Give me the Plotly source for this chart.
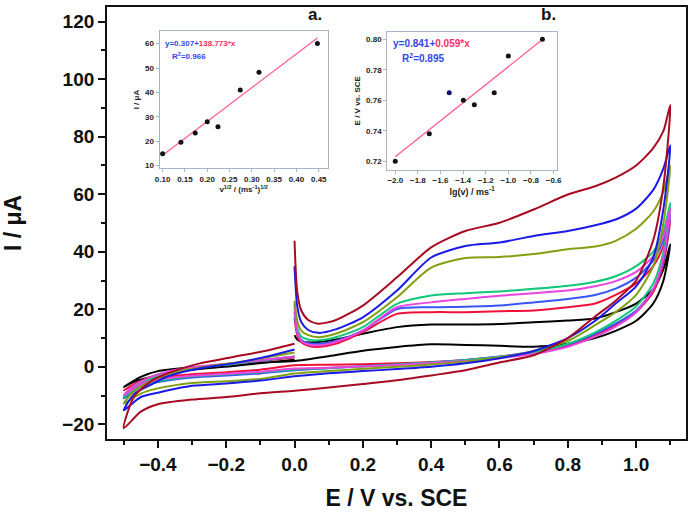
import plotly.graph_objects as go

# ---------------- main CV data ----------------
scan_labels = ["10 mV/s", "20 mV/s", "30 mV/s", "40 mV/s", "50 mV/s", "75 mV/s", "100 mV/s", "200 mV/s"]
curve_colors = ["#000000", "#f0103a", "#3a55f5", "#10c878", "#e845e0", "#80a010", "#1a1ae6", "#a80a22"]

E_anodic = [0.0, 0.008, 0.02, 0.04, 0.07, 0.12, 0.2, 0.3, 0.4, 0.5, 0.6, 0.7, 0.8, 0.88, 0.94, 1.0, 1.05, 1.08, 1.1]
E_cathodic = [1.08, 1.05, 1.0, 0.94, 0.88, 0.8, 0.7, 0.6, 0.5, 0.4, 0.3, 0.2, 0.1, 0.0, -0.1, -0.2, -0.3, -0.4, -0.45, -0.5]
E_return = [-0.47, -0.42, -0.37, -0.28, -0.18, -0.08, 0.0]

I_anodic = [
    [11, 9.5, 8.8, 8.5, 8.6, 9.5, 11.5, 13.8, 14.7, 14.7, 14.9, 15.5, 16.1, 16.8, 19, 22, 27, 34, 42.6],
    [17, 11, 8.5, 7.3, 6.9, 8.0, 12.1, 18.4, 19.0, 19.0, 19.3, 19.6, 20.7, 22, 25, 29, 35, 42, 51],
    [19, 12, 9.3, 8.3, 8.0, 9.0, 12.6, 20.1, 20.7, 20.9, 21.3, 22.4, 23.6, 25, 27.2, 31, 37, 44, 53],
    [22, 13.5, 10.5, 9.5, 9.2, 10.3, 13.8, 21.9, 24.8, 25.6, 26.2, 27.1, 28.2, 29.6, 31.5, 35, 40, 47, 57],
    [21, 12, 9, 7.8, 7.4, 8.6, 12.6, 20.7, 22.4, 23.6, 24.7, 25.6, 26.5, 28, 29.8, 33, 38.5, 45.5, 55],
    [23, 16, 12.5, 11, 10.3, 11.5, 15.5, 24.2, 34.5, 37.8, 38.2, 39.2, 40.9, 41.8, 43.8, 48, 54, 61, 70],
    [35, 21, 15.5, 12.8, 11.8, 13, 17.2, 26.5, 38, 42, 43.2, 45.5, 47.2, 49.2, 51.2, 55, 61.5, 69, 77],
    [43.8, 26, 19.5, 16.3, 15.0, 16.2, 21.3, 31.1, 41.5, 47.2, 50.1, 54.7, 59.9, 62.8, 65.8, 70, 76, 82, 91],
]
I_cathodic = [
    [30, 22, 16, 12.5, 10, 8, 7, 7.3, 7.6, 7.8, 6.9, 5.6, 3.7, 2.0, 1.5, 0.7, -0.2, -1.5, -3.5, -7],
    [36, 26, 19, 14.5, 11, 7.5, 5, 3.5, 2.4, 1.7, 1.2, 0.9, 0.7, 0.5, -1.0, -1.9, -2.6, -3.8, -5, -8.2],
    [37, 27, 19.5, 15, 11.5, 7.8, 5.2, 3.6, 2.4, 1.5, 0.8, 0.2, -0.5, -1.2, -2.3, -3.0, -3.7, -5.3, -7, -11],
    [40, 29, 21, 16, 12, 8, 5, 3.4, 2.3, 1.5, 0.8, 0.2, -0.4, -0.9, -1.9, -2.6, -3.3, -5, -6.5, -10.5],
    [38, 27, 19, 14, 10.5, 7, 4.5, 3.0, 2.0, 1.3, 0.6, 0.1, -0.3, -0.6, -1.7, -2.4, -3.1, -4.5, -6, -9.9],
    [50, 35, 25, 19, 14.5, 9, 5.5, 3.3, 1.8, 0.8, 0.0, -0.7, -1.5, -2.3, -4.2, -5, -5.6, -7.5, -9.3, -12.8],
    [55, 38, 28, 22, 16, 10, 5.5, 3.0, 1.2, 0.0, -0.8, -1.5, -2.2, -3.3, -4.8, -5.8, -6.6, -9, -10.5, -15.1],
    [63, 44, 30, 23, 17.5, 10, 4, 1.5, -1.2, -3, -4.7, -6, -7.2, -8.3, -9.2, -10.5, -11.4, -13, -15.6, -21.3],
]
I_return = [
    [-5.2, -3.5, -2.2, -0.8, 0.3, 1.5, 2.5],
    [-6.0, -3.5, -1.8, -0.1, 1.0, 2.3, 3.2],
    [-7.2, -4.0, -2.0, -0.2, 1.0, 2.4, 3.6],
    [-7.0, -4.0, -2.0, -0.2, 1.0, 2.5, 3.6],
    [-6.5, -3.5, -1.6, 0.1, 1.2, 2.6, 3.5],
    [-8.5, -5.0, -2.5, -0.3, 1.3, 3.3, 5.0],
    [-9.5, -6.2, -3.3, -0.6, 1.2, 3.6, 6.0],
    [-10.4, -5.0, -2.2, 1.1, 3.4, 5.7, 8.0],
]

# ---------------- inset data ----------------
a_x = [0.100, 0.141, 0.173, 0.200, 0.224, 0.274, 0.316, 0.447]
a_y = [14.8, 19.5, 23.3, 28.0, 25.9, 41.0, 48.3, 60.0]
a_intercept, a_slope = 0.307, 138.773

b_x = [-2.0, -1.699, -1.523, -1.398, -1.301, -1.125, -1.0, -0.699]
b_y = [0.720, 0.738, 0.765, 0.760, 0.757, 0.765, 0.789, 0.800]
b_point_colors = ["#111111", "#111111", "#101070", "#111111", "#111111", "#111111", "#111111", "#111111"]
b_intercept, b_slope = 0.841, 0.059

FONT = "Liberation Sans, Arial, sans-serif"
fig = go.Figure()

for k in range(len(scan_labels)):
    xs = E_anodic + E_cathodic + E_return
    ys = I_anodic[k] + I_cathodic[k] + I_return[k]
    fig.add_trace(go.Scatter(x=xs, y=ys, mode="lines", name=scan_labels[k],
                             line=dict(color=curve_colors[k], width=2, shape="spline", smoothing=0.7),
                             showlegend=False, xaxis="x", yaxis="y"))

# inset a
a_fx = [min(a_x), max(a_x)]
a_fy = [a_intercept + a_slope * v for v in a_fx]
fig.add_trace(go.Scatter(x=a_fx, y=a_fy, mode="lines", line=dict(color="#ff5c95", width=1.3),
                         showlegend=False, xaxis="x2", yaxis="y2"))
fig.add_trace(go.Scatter(x=a_x, y=a_y, mode="markers", marker=dict(color="#111111", size=5),
                         showlegend=False, xaxis="x2", yaxis="y2"))
# inset b
b_fx = [min(b_x), max(b_x)]
b_fy = [b_intercept + b_slope * v for v in b_fx]
fig.add_trace(go.Scatter(x=b_fx, y=b_fy, mode="lines", line=dict(color="#ff5c95", width=1.3),
                         showlegend=False, xaxis="x3", yaxis="y3"))
fig.add_trace(go.Scatter(x=b_x, y=b_y, mode="markers", marker=dict(color=b_point_colors, size=5),
                         showlegend=False, xaxis="x3", yaxis="y3"))

main_tickfont = dict(family=FONT, size=19, color="#111111", weight="bold")
title_font = dict(family=FONT, size=23, color="#111111")
inset_tickfont = dict(family=FONT, size=8, color="#222222", weight="bold")
inset_title_font = dict(family=FONT, size=8, color="#222222")
inset_line = "#a9b4c8"

fig.update_layout(
    width=696, height=516,
    margin=dict(l=107, r=6, t=5, b=77),
    paper_bgcolor="white", plot_bgcolor="white",
    xaxis=dict(range=[-0.549, 1.146], tickvals=[-0.4, -0.2, 0.0, 0.2, 0.4, 0.6, 0.8, 1.0],
               tickformat=".1f", ticks="outside", ticklen=7, tickwidth=1.5, tickcolor="#111",
               minor=dict(dtick=0.1, tick0=0, ticks="outside", ticklen=4, tickwidth=1.5, tickcolor="#111"),
               showline=True, linecolor="#111", linewidth=1.8, mirror=True,
               showgrid=False, zeroline=False, tickfont=main_tickfont,
               title=dict(text="<b>E / V vs. SCE</b>", font=title_font, standoff=16)),
    yaxis=dict(range=[-25.1, 125.1], dtick=20, tick0=0, ticks="outside", ticklen=7, tickwidth=1.5,
               tickcolor="#111",
               minor=dict(dtick=10, tick0=0, ticks="outside", ticklen=4, tickwidth=1.5, tickcolor="#111"),
               showline=True, linecolor="#111", linewidth=1.8, mirror=True,
               showgrid=False, zeroline=False, tickfont=main_tickfont,
               title=dict(text="<b>I / \u03bcA</b>", font=title_font, standoff=38)),
    xaxis2=dict(domain=[0.0909, 0.3813], anchor="y2", range=[0.0933, 0.4702], dtick=0.05, tick0=0,
                tickformat=".2f", ticks="outside", ticklen=3, tickcolor=inset_line,
                showline=True, linecolor=inset_line, linewidth=1.2, mirror=True,
                showgrid=False, zeroline=False, tickfont=inset_tickfont,
                title=dict(text="<b>v<sup>1/2</sup> / (ms<sup>-1</sup>)<sup>1/2</sup></b>", font=inset_title_font, standoff=2)),
    yaxis2=dict(domain=[0.6274, 0.944], anchor="x2", range=[9.0, 65.1], dtick=10, tick0=0,
                ticks="outside", ticklen=3, tickcolor=inset_line,
                showline=True, linecolor=inset_line, linewidth=1.2, mirror=True,
                showgrid=False, zeroline=False, tickfont=inset_tickfont,
                title=dict(text="<b>I / \u03bcA</b>", font=inset_title_font, standoff=4)),
    xaxis3=dict(domain=[0.4842, 0.777], anchor="y3", range=[-2.07, -0.571], dtick=0.2, tick0=0,
                tickformat=".1f", ticks="outside", ticklen=3, tickcolor=inset_line,
                showline=True, linecolor=inset_line, linewidth=1.2, mirror=True,
                showgrid=False, zeroline=False, tickfont=inset_tickfont,
                title=dict(text="<b>lg(v) / ms<sup>-1</sup></b>", font=dict(family=FONT, size=9, color="#222222"), standoff=4)),
    yaxis3=dict(domain=[0.6237, 0.9424], anchor="x3", range=[0.7146, 0.8048], dtick=0.02, tick0=0,
                tickformat=".2f", ticks="outside", ticklen=3, tickcolor=inset_line,
                showline=True, linecolor=inset_line, linewidth=1.2, mirror=True,
                showgrid=False, zeroline=False, tickfont=inset_tickfont,
                title=dict(text="<b>E / V vs. SCE</b>", font=inset_title_font, standoff=4)),
)

def ann(text, x, y, size, color="#111111", xanchor="center"):
    fig.add_annotation(text="<b>" + text + "</b>", x=x, y=y, xref="paper", yref="paper", showarrow=False,
                       xanchor=xanchor, yanchor="middle",
                       font=dict(family=FONT, size=size, color=color))

# inset a texts
ann("a.", 0.3585, 0.9816, 17)
ann("y=0.307+<span style='color:#ff2a6a'>138.773*x</span>", 0.0961, 0.9154, 8, color="#3347e8", xanchor="left")
ann("R<sup>2</sup>=0.966", 0.1081, 0.8871, 8, color="#3347e8", xanchor="left")

# inset b texts
ann("b.", 0.7633, 0.9816, 17)
ann("y=0.841+<span style='color:#ff2a6a'>0.059*x</span>", 0.4906, 0.9154, 10, color="#3347e8", xanchor="left")
ann("R<sup>2</sup>=0.895", 0.506, 0.8809, 10, color="#3347e8", xanchor="left")

fig.write_html("out.html", config={"displayModeBar": False},
               post_script="document.body.style.margin='0px';document.body.style.padding='0px';")
